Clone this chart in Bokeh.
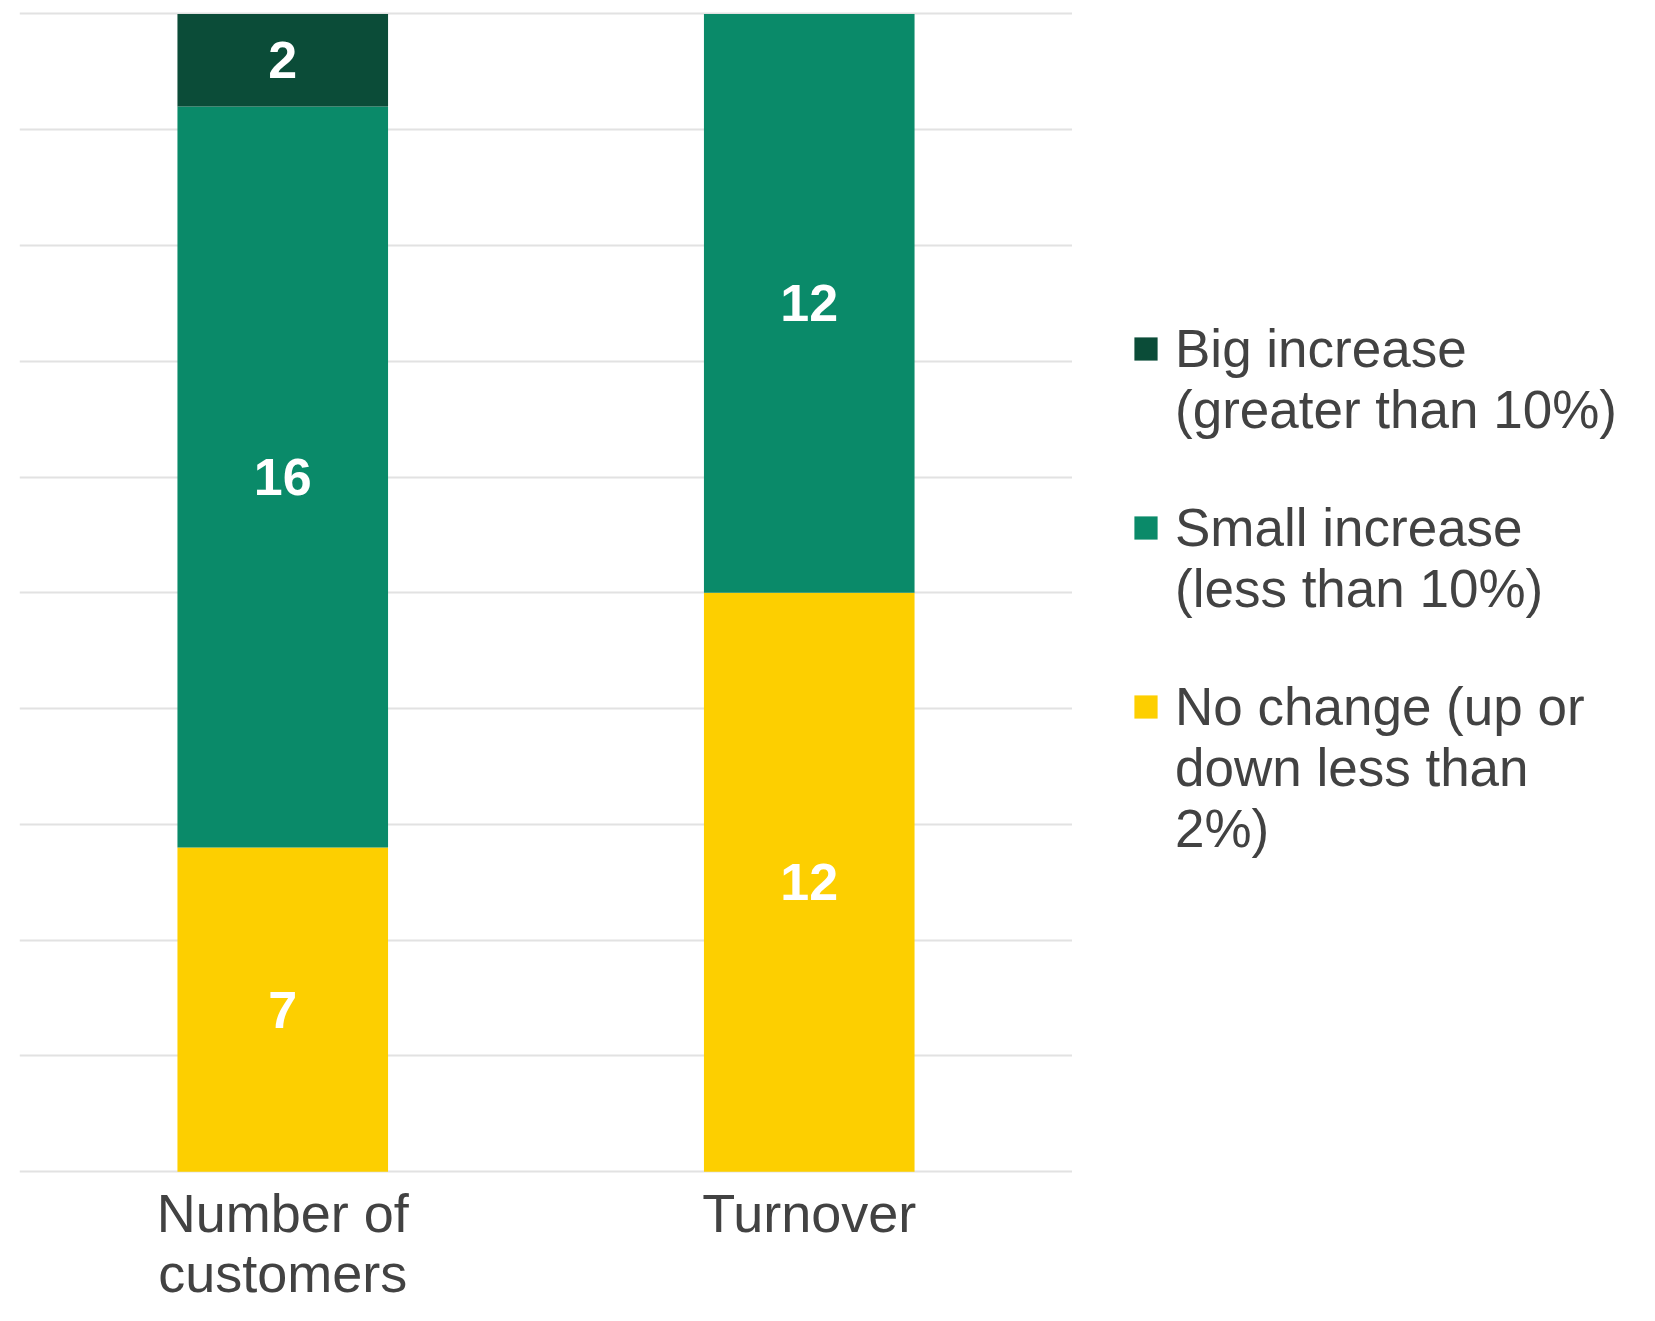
from bokeh.plotting import figure
from bokeh.models import ColumnDataSource, LabelSet, Legend, LegendItem, FactorRange, Range1d
from bokeh.layouts import row
from bokeh.embed import file_html
from bokeh.resources import INLINE
from bokeh.core.properties import value

# ---- data ----
categories = ["Number of\ncustomers", "Turnover"]
no_change = [7, 12.5]
small_increase = [16, 12.5]
big_increase = [2, 0]
legend_lines = [
    ["Big increase", "(greater than 10%)"],
    ["Small increase", "(less than 10%)"],
    ["No change (up or", "down less than", "2%)"],
]
colors = ["#FDCF00", "#0A8A69", "#0B4C38"]   # no change, small, big
y_ticks = [0, 2.5, 5, 7.5, 10, 12.5, 15, 17.5, 20, 22.5, 25]

FONT = "Liberation Sans"
TEXT = "#424242"
FS = "54px"
NAN = float("nan")

src = ColumnDataSource(dict(cat=categories, nc=no_change, si=small_increase, bi=big_increase))

# ---------------- main chart ----------------
p = figure(x_range=FactorRange(*categories, range_padding=0), y_range=Range1d(-0.06, 25.29),
           width=1072, height=1305, output_backend="svg", toolbar_location=None,
           min_border_left=19, min_border_right=0, min_border_top=0, min_border_bottom=0)
p.outline_line_color = None
p.background_fill_color = "white"

renderers = p.vbar_stack(["nc", "si", "bi"], x="cat", width=0.4, source=src,
                         color=colors, line_color=None)

# data labels centered in each segment
lx, ly, lt = [], [], []
for i, c in enumerate(categories):
    base = 0
    for vals in (no_change, small_increase, big_increase):
        v = vals[i]
        if v > 0:
            lx.append(c)
            ly.append(base + v / 2)
            lt.append("{:.0f}".format(v))
        base += v
lab_src = ColumnDataSource(dict(x=lx, y=ly, t=lt))
p.add_layout(LabelSet(x="x", y="y", text="t", source=lab_src, text_align="center",
                      text_baseline="middle", text_color="white",
                      text_font=value(FONT), text_font_size="52px",
                      text_font_style="bold"))

p.yaxis.visible = False
p.xaxis.axis_line_color = None
p.xaxis.major_tick_line_color = None
p.xaxis.minor_tick_line_color = None
p.xaxis.major_tick_in = 0
p.xaxis.major_tick_out = 0
p.xaxis.major_label_standoff = 8
p.xaxis.major_label_text_font = FONT
p.xaxis.major_label_text_font_size = FS
p.xaxis.major_label_text_color = TEXT
p.xaxis.major_label_text_line_height = 1.0
p.xgrid.grid_line_color = None
p.ygrid.ticker = y_ticks
p.ygrid.grid_line_color = "#E2E2E2"
p.ygrid.grid_line_width = 2

# ---------------- legend panel ----------------
q = figure(x_range=Range1d(0, 1), y_range=Range1d(0, 1), width=567, height=1305,
           output_backend="svg", toolbar_location=None,
           min_border_left=0, min_border_right=0, min_border_top=0, min_border_bottom=0)
q.outline_line_color = None
q.axis.visible = False
q.grid.visible = False

# swatch renderers hold no drawable points; only their legend glyphs show
swatches = [q.vbar(x=[NAN], top=[NAN], bottom=[NAN], width=0.01, color=c, line_color=None)
            for c in colors]
blank = q.vbar(x=[NAN], top=[NAN], bottom=[NAN], width=0.01, fill_alpha=0, line_alpha=0)

items = []
for k, lines in zip((2, 1, 0), legend_lines):
    items.append(LegendItem(label=lines[0], renderers=[swatches[k]]))
    for extra in lines[1:]:
        items.append(LegendItem(label=extra, renderers=[blank]))
    if k != 0:
        items.append(LegendItem(label=" ", renderers=[blank]))

legend = Legend(items=items, location=(59, 315), orientation="vertical",
                glyph_width=29, glyph_height=29, label_standoff=15, spacing=0,
                label_height=57,
                label_text_font=FONT, label_text_font_size="53px",
                label_text_color=TEXT, border_line_color=None,
                background_fill_alpha=0, padding=0, margin=0)
q.add_layout(legend, "center")

layout = row(p, q)
open("out.html", "w").write(file_html(layout, INLINE))
